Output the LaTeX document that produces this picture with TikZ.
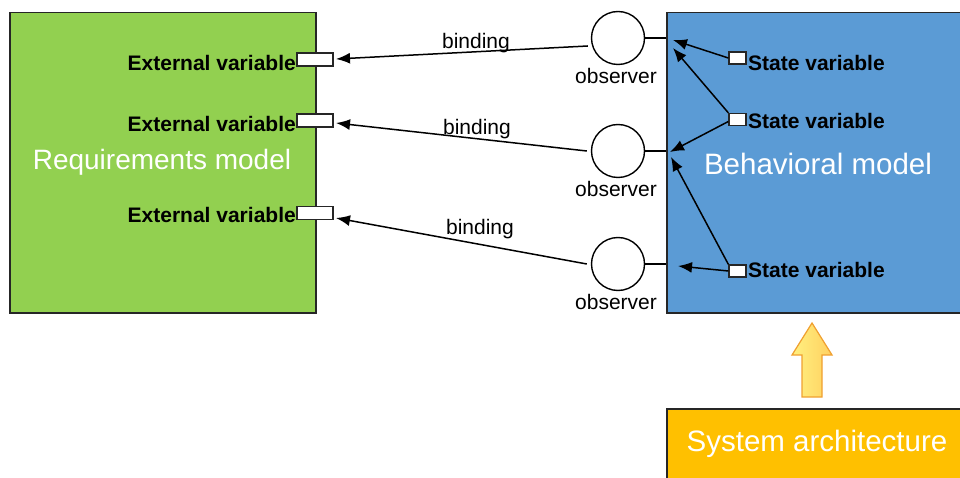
\documentclass[tikz,border=0pt]{standalone}
\usepackage{fontspec}
\setmainfont{Liberation Sans}
\usetikzlibrary{arrows.meta,shadings}
\definecolor{reqgreen}{HTML}{92D050}
\definecolor{behblue}{HTML}{5B9BD5}
\definecolor{archyellow}{HTML}{FFC000}
\definecolor{arrowedge}{HTML}{F0A030}
\definecolor{arrowlight}{HTML}{FFF080}
\definecolor{arrowdark}{HTML}{FFD060}
\tikzset{
  model/.style={draw=black!85, line width=1.5pt, anchor=north west, inner sep=0pt},
  bigtext/.style={text=white, font=\fontsize{29.5}{34}\selectfont},
  varlabel/.style={font=\bfseries\fontsize{21}{24}\selectfont, inner sep=0pt},
  small/.style={font=\fontsize{21}{24}\selectfont, inner sep=0pt},
  port/.style={draw=black!85, fill=white, line width=1.3pt, inner sep=0pt},
  obs/.style={draw=black, fill=white, circle, line width=1.4pt, minimum size=53pt, inner sep=0pt},
  conn/.style={line width=1.5pt, -{Latex[length=14pt,width=11pt]}},
  plain/.style={line width=1.5pt}
}
\begin{document}
\begin{tikzpicture}[x=1pt,y=-1pt]
\useasboundingbox (0,0) rectangle (960,478);
% models
\node[model, fill=reqgreen, minimum width=306pt, minimum height=300pt] (req) at (9,12) {};
\node[model, fill=behblue, minimum width=296pt, minimum height=300pt] (beh) at (666,12) {};
\node[model, fill=archyellow, minimum width=296pt, minimum height=75pt] (arch) at (666,408) {};
\node[bigtext, font=\fontsize{28}{32}\selectfont] (reqt) at (162,162) {Requirements model};
\node[bigtext] (beht) at (818,164) {Behavioral model};
\node[bigtext] (archt) at (817,444) {System architecture};
% external variable ports
\node[port, minimum width=36pt, minimum height=13pt] (e1) at (315,59.5) {};
\node[port, minimum width=36pt, minimum height=13pt] (e2) at (315,120.5) {};
\node[port, minimum width=36pt, minimum height=13pt] (e3) at (315,213) {};
\node[varlabel, anchor=east] (e1l) at (296,63) {External variable};
\node[varlabel, anchor=east] (e2l) at (296,124) {External variable};
\node[varlabel, anchor=east] (e3l) at (296,215) {External variable};
% observers
\node[obs] (o1) at (618,38) {};
\node[obs] (o2) at (618,151) {};
\node[obs] (o3) at (618,264) {};
\node[small] (o1l) at (616,76) {observer};
\node[small] (o2l) at (616,189) {observer};
\node[small] (o3l) at (616,302) {observer};
\draw[plain] (o1.east) -- (o1.east -| beh.west);
\draw[plain] (o2.east) -- (o2.east -| beh.west);
\draw[plain] (o3.east) -- (o3.east -| beh.west);
% bindings
\coordinate (b1e) at (336,59);
\coordinate (b2e) at (336,123);
\coordinate (b3e) at (336,218);
\draw[conn] ([xshift=-3pt,yshift=-8pt]o1.west) -- (b1e);
\draw[conn] ([xshift=-4pt]o2.west) -- (b2e);
\draw[conn] ([xshift=-4pt]o3.west) -- (b3e);
\node[small] (bl1) at (476,43) {binding};
\node[small] (bl2) at (477,129) {binding};
\node[small] (bl3) at (480,229) {binding};
% state variables
\node[port, minimum width=17pt, minimum height=12pt] (s1) at (737.5,58) {};
\node[port, minimum width=17pt, minimum height=12pt] (s2) at (737.5,119.5) {};
\node[port, minimum width=17pt, minimum height=12pt] (s3) at (737.5,271) {};
\node[varlabel, anchor=west] (s1l) at (748,63) {State variable};
\node[varlabel, anchor=west] (s2l) at (748,121) {State variable};
\node[varlabel, anchor=west] (s3l) at (748,270) {State variable};
\coordinate (t1) at (673,40);
\coordinate (t2) at (673,48);
\coordinate (t3) at (670,152);
\coordinate (t4) at (671,157);
\coordinate (t5) at (678,266);
\draw[conn] (s1.west) -- (t1);
\draw[conn] (s2.north west) -- (t2);
\draw[conn] ([yshift=-2pt]s2.west) -- (t3);
\draw[conn] (s3.north west) -- (t4);
\draw[conn] (s3.west) -- (t5);
% up arrow
\path[draw=arrowedge, line width=1.2pt, left color=arrowlight, right color=arrowdark]
  (802,397) -- (802,355) -- (792,355) -- (812,323) -- (832,355) -- (822,355) -- (822,397) -- cycle;
\end{tikzpicture}
\end{document}
